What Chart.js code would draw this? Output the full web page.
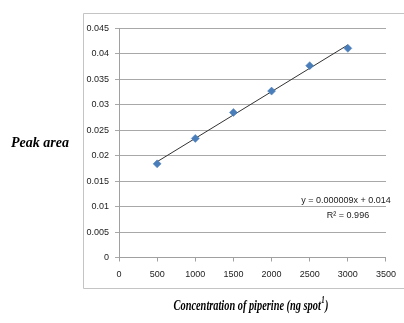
<!DOCTYPE html>
<html>
<head>
<meta charset="utf-8">
<script src="https://cdn.jsdelivr.net/npm/chart.js@4"></script>
<style>
html,body{margin:0;padding:0;background:#fff;}
#wrap{width:404px;height:323px;position:relative;}
</style>
</head>
<body>
<div id="wrap"><canvas id="c" width="404" height="323"></canvas></div>
<script>
// ---- data ----
const concentrations = [500, 1000, 1500, 2000, 2500, 3000];
const peakAreas = [0.0184, 0.0234, 0.0285, 0.0327, 0.0377, 0.0411];
const xTickValues = [0, 500, 1000, 1500, 2000, 2500, 3000, 3500];
const yTickValues = [0, 0.005, 0.01, 0.015, 0.02, 0.025, 0.03, 0.035, 0.04, 0.045];
const yTickLabels = ["0", "0.005", "0.01", "0.015", "0.02", "0.025", "0.03", "0.035", "0.04", "0.045"];
const xTickLabels = ["0", "500", "1000", "1500", "2000", "2500", "3000", "3500"];
const yTitle = "Peak area";
const xTitle = "Concentration of piperine (ng spot";
const xTitleSup = "1";
const xTitleEnd = ")";
const equationText = "y = 0.000009x + 0.014";
const r2Text = "R\u00B2 = 0.996";

// least-squares trendline from the data
const n = concentrations.length;
const mx = concentrations.reduce((a, b) => a + b, 0) / n;
const my = peakAreas.reduce((a, b) => a + b, 0) / n;
let sxy = 0, sxx = 0;
for (let i = 0; i < n; i++) {
  sxy += (concentrations[i] - mx) * (peakAreas[i] - my);
  sxx += (concentrations[i] - mx) ** 2;
}
const slope = sxy / sxx;
const intercept = my - slope * mx;
const xmin = Math.min(...concentrations), xmax = Math.max(...concentrations);
const trendPoints = [
  { x: xmin, y: intercept + slope * xmin },
  { x: xmax, y: intercept + slope * xmax }
];

const decor = {
  id: 'decor',
  beforeDraw(chart) {
    const ctx = chart.ctx;
    ctx.save();
    ctx.fillStyle = '#fff';
    ctx.fillRect(0, 0, chart.width, chart.height);
    ctx.strokeStyle = '#c4c4c4';
    ctx.lineWidth = 1;
    ctx.beginPath();
    ctx.moveTo(404, 13.5);
    ctx.lineTo(83.5, 13.5);
    ctx.lineTo(83.5, 288.5);
    ctx.lineTo(404, 288.5);
    ctx.stroke();
    ctx.restore();
  },
  afterDraw(chart) {
    const ctx = chart.ctx;
    ctx.save();
    ctx.fillStyle = '#000';
    ctx.textBaseline = 'middle';
    ctx.font = 'italic bold 14px "Liberation Serif", "Times New Roman", serif';
    ctx.textAlign = 'center';
    ctx.fillText(yTitle, 40, 143);
    // x title with superscript (horizontally condensed like the reference)
    const fMain = 'italic bold 15px "Liberation Serif", "Times New Roman", serif';
    const fSup = 'italic bold 10px "Liberation Serif", "Times New Roman", serif';
    const sx = 0.69;
    ctx.font = fMain;
    const w1 = ctx.measureText(xTitle).width;
    const w3 = ctx.measureText(xTitleEnd).width;
    ctx.font = fSup;
    const w2 = ctx.measureText(xTitleSup).width;
    const total = (w1 + w2 + 1 + w3) * sx;
    ctx.save();
    ctx.translate(251 - total / 2, 0);
    ctx.scale(sx, 1);
    ctx.textAlign = 'left';
    ctx.font = fMain;
    ctx.fillText(xTitle, 0, 306);
    ctx.font = fSup;
    ctx.fillText(xTitleSup, w1 + 0.5, 300);
    ctx.font = fMain;
    ctx.fillText(xTitleEnd, w1 + w2 + 1, 306);
    ctx.restore();
    // equation
    ctx.font = '9px "Liberation Sans", Arial, sans-serif';
    ctx.fillStyle = '#222';
    ctx.textAlign = 'center';
    ctx.fillText(equationText, 346, 201);
    ctx.fillText(r2Text, 348, 216);
    ctx.restore();
  }
};

new Chart(document.getElementById('c'), {
  type: 'scatter',
  data: {
    datasets: [
      {
        type: 'line',
        data: trendPoints,
        borderColor: '#333',
        borderWidth: 1,
        pointRadius: 0,
        fill: false,
        order: 2
      },
      {
        data: concentrations.map((x, i) => ({ x: x, y: peakAreas[i] })),
        pointStyle: 'rectRot',
        pointRadius: 4,
        backgroundColor: '#4a7ebb',
        borderColor: '#4a7ebb',
        borderWidth: 0.5,
        order: 1
      }
    ]
  },
  options: {
    responsive: false,
    animation: false,
    devicePixelRatio: 1,
    layout: { padding: { left: 0, right: 18, top: 28.5, bottom: 0 } },
    plugins: { legend: { display: false }, tooltip: { enabled: false } },
    scales: {
      x: {
        type: 'linear',
        min: 0, max: 3500,
        afterBuildTicks(s) { s.ticks = xTickValues.map(v => ({ value: v })); },
        afterFit(s) { s.height = 65.5; },
        ticks: {
          callback: (v) => xTickLabels[xTickValues.indexOf(v)],
          font: { family: '"Liberation Sans", Arial, sans-serif', size: 9 },
          color: '#222',
          padding: 8,
          maxRotation: 0
        },
        grid: { drawOnChartArea: false, drawTicks: true, tickLength: 4, color: '#a0a0a0' },
        border: { color: '#a0a0a0' }
      },
      y: {
        type: 'linear',
        min: 0, max: 0.045,
        afterBuildTicks(s) { s.ticks = yTickValues.map(v => ({ value: v })); },
        afterFit(s) { s.width = 119; },
        ticks: {
          callback: (v) => yTickLabels[yTickValues.indexOf(v)],
          font: { family: '"Liberation Sans", Arial, sans-serif', size: 9 },
          color: '#222',
          padding: 6
        },
        grid: { color: '#a8a8a8', tickLength: 4 },
        border: { color: '#a0a0a0' }
      }
    }
  },
  plugins: [decor]
});
</script>
</body>
</html>
